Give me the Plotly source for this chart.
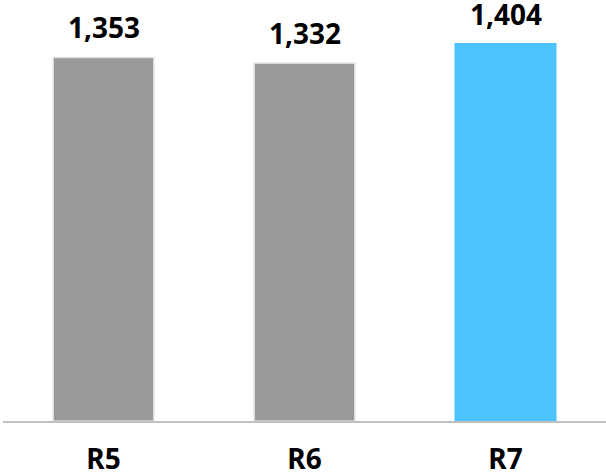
import plotly.graph_objects as go

categories = ["R5", "R6", "R7"]
values = [1353, 1332, 1404]
labels = ["1,353", "1,332", "1,404"]
colors = ["#999999", "#999999", "#4DC3FF"]
line_colors = ["#DDDDDD", "#DDDDDD", "#4DC3FF"]

FONT = "Noto Sans"

fig = go.Figure(go.Bar(
    x=categories, y=values,
    marker=dict(color=colors, line=dict(color=line_colors, width=1.5)),
    hoverinfo="x+y",
))
for c, v, t in zip(categories, values, labels):
    fig.add_annotation(x=c, y=v, text=t, showarrow=False, yanchor="bottom",
                       yshift=9,
                       font=dict(family=FONT, size=28, color="#000000", weight="bold"))
fig.update_layout(
    width=606, height=474,
    margin=dict(l=3, r=0, t=18, b=53, pad=0),
    plot_bgcolor="white", paper_bgcolor="white",
    bargap=0.5, showlegend=False,
)
fig.update_xaxes(showline=True, linecolor="#C0C0C0", linewidth=2, ticks="",
                 automargin=False,
                 tickfont=dict(family=FONT, size=28, color="#000000", weight="bold"),
                 ticklabelstandoff=12)
fig.update_yaxes(range=[0, 1500], visible=False, showgrid=False, automargin=False)
fig.write_html("out.html", config={"displayModeBar": False},
               post_script="document.body.style.margin='0';")
